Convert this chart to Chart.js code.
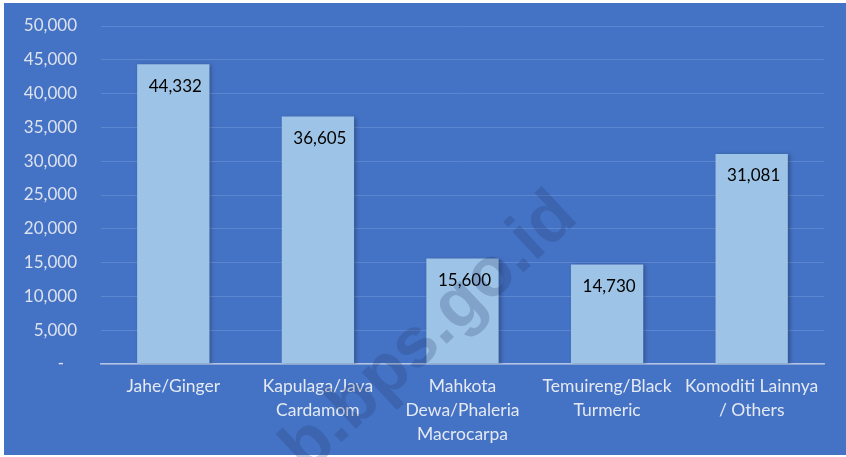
<!DOCTYPE html>
<html>
<head>
<meta charset="utf-8">
<script src="https://cdn.jsdelivr.net/npm/chart.js@4/dist/chart.umd.min.js"></script>
<style>
  html, body { margin: 0; padding: 0; background: #ffffff; }
  #wrap { width: 846px; height: 457px; position: relative; }
</style>
</head>
<body>
<div id="wrap"><canvas id="c" width="846" height="457"></canvas></div>
<script>
const categories = [
  ["Jahe/Ginger"],
  ["Kapulaga/Java", "Cardamom"],
  ["Mahkota", "Dewa/Phaleria", "Macrocarpa"],
  ["Temuireng/Black", "Turmeric"],
  ["Komoditi Lainnya", "/ Others"]
];
const values = [44332, 36605, 15600, 14730, 31081];
const yTicks = [0, 5000, 10000, 15000, 20000, 25000, 30000, 35000, 40000, 45000, 50000];
const watermarkText = "b.bps.go.id";

const FONT = "Lato, 'Open Sans', sans-serif";
const fmt = v => v === 0 ? "-   " : v.toLocaleString("en-US");

const panelPlugin = {
  id: "panel",
  beforeDraw(chart) {
    const ctx = chart.ctx;
    ctx.save();
    ctx.fillStyle = "#ffffff";
    ctx.fillRect(0, 0, chart.width, chart.height);
    ctx.fillStyle = "#4472C4";
    ctx.fillRect(4, 3, chart.width - 4, chart.height - 5);
    ctx.restore();
  }
};

const shadowPlugin = {
  id: "barShadow",
  beforeDatasetsDraw(chart) {
    const ctx = chart.ctx;
    ctx.save();
    ctx.shadowColor = "rgba(0,0,0,0.28)";
    ctx.shadowBlur = 4;
    ctx.shadowOffsetX = 2;
    ctx.shadowOffsetY = 1;
  },
  afterDatasetsDraw(chart) {
    chart.ctx.restore();
  }
};

const labelPlugin = {
  id: "valueLabels",
  afterDatasetsDraw(chart) {
    const ctx = chart.ctx;
    const meta = chart.getDatasetMeta(0);
    ctx.save();
    ctx.fillStyle = "#000000";
    ctx.font = "17px " + FONT;
    ctx.textAlign = "center";
    ctx.textBaseline = "middle";
    meta.data.forEach((bar, i) => {
      ctx.fillText(fmt(values[i]), bar.x + 2, bar.y + 22);
    });
    ctx.restore();
  }
};

const watermarkPlugin = {
  id: "watermark",
  afterDraw(chart) {
    const ctx = chart.ctx;
    ctx.save();
    ctx.translate(430, 333);
    ctx.rotate(-43 * Math.PI / 180);
    ctx.font = "bold 70px 'Liberation Sans', Arial, sans-serif";
    ctx.textAlign = "center";
    ctx.textBaseline = "middle";
    ctx.fillStyle = "rgba(30,50,100,0.22)";
    ctx.fillText(watermarkText, 0, 0);
    ctx.restore();
  }
};

new Chart(document.getElementById("c"), {
  type: "bar",
  data: {
    labels: categories,
    datasets: [{
      data: values,
      backgroundColor: "#9DC3E6",
      borderWidth: 0,
      barPercentage: 0.5,
      categoryPercentage: 1.0
    }]
  },
  options: {
    responsive: false,
    animation: false,
    devicePixelRatio: 1,
    layout: { padding: { top: 26, right: 22, left: 0, bottom: 0 } },
    plugins: {
      legend: { display: false },
      tooltip: { enabled: false }
    },
    scales: {
      x: {
        grid: { display: false, drawTicks: false },
        border: { display: true, color: "#B4C3E0", width: 1.5 },
        ticks: {
          color: "#E4E9F2",
          font: { family: FONT, size: 17.5, lineHeight: 1.38 },
          padding: 10,
          maxRotation: 0,
          autoSkip: false
        },
        afterFit(scale) {
          scale.height = 93;
          scale.paddingLeft = 0;
          scale.paddingRight = 0;
        }
      },
      y: {
        min: 0,
        max: 50000,
        afterBuildTicks(scale) { scale.ticks = yTicks.map(v => ({ value: v })); },
        grid: { color: "#5C86D0", lineWidth: 1, drawTicks: false },
        border: { display: false },
        ticks: {
          color: "#DCE2EE",
          font: { family: FONT, size: 17 },
          padding: 24,
          callback: v => fmt(v)
        },
        afterFit(scale) {
          scale.width = 101;
          scale.paddingTop = 0;
          scale.paddingBottom = 0;
        }
      }
    }
  },
  plugins: [panelPlugin, shadowPlugin, labelPlugin, watermarkPlugin]
});
</script>
</body>
</html>
